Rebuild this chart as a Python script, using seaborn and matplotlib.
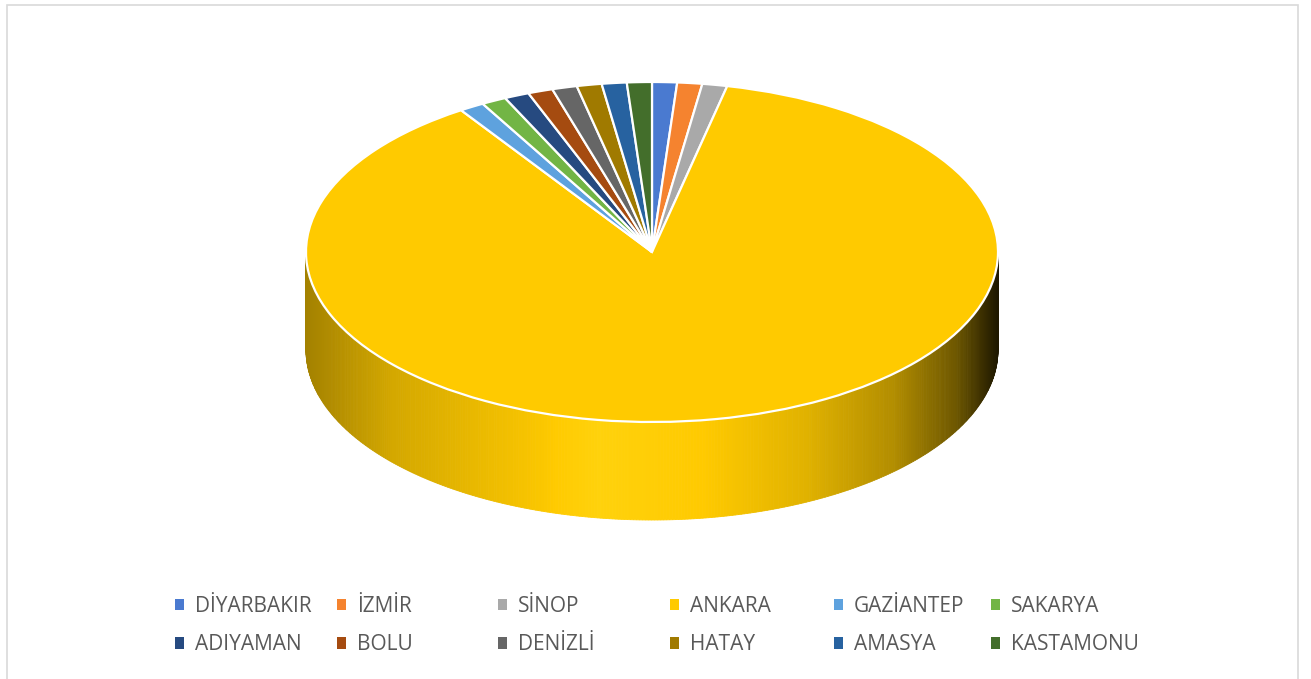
import numpy as np
import matplotlib
matplotlib.use("Agg")
import matplotlib.pyplot as plt
from matplotlib.patches import Polygon, Patch, Rectangle
import matplotlib.colors as mcolors
import seaborn as sns

# Provinces and their counts
cities = ["DİYARBAKIR", "İZMİR", "SİNOP", "ANKARA", "GAZİANTEP", "SAKARYA",
          "ADIYAMAN", "BOLU", "DENİZLİ", "HATAY", "AMASYA", "KASTAMONU"]
counts = [1, 1, 1, 75, 1, 1, 1, 1, 1, 1, 1, 1]
palette_hex = ["#4A7AD0", "#F5832F", "#A9A9A9", "#FFCA00", "#5EA2DE", "#72B545",
               "#264A80", "#A54B10", "#666666", "#A07A00", "#2762A0", "#436E2B"]

sns.set_theme(style="white")
plt.rcParams["font.family"] = ["Open Sans", "DejaVu Sans"]
colors = sns.color_palette(palette_hex)

W, H = 1311, 679
fig = plt.figure(figsize=(W / 100, H / 100), dpi=100)
fig.patch.set_facecolor("white")

# pie geometry in pixels: centre, horizontal / vertical radii, side depth
cx, cy, rx, ry, depth_px = 652, 252, 346, 170, 98
depth = depth_px / ry

ax = fig.add_axes([0, 0, 1, 1])
wedges, _ = ax.pie(counts, colors=colors, startangle=90, counterclock=False,
                   radius=1, wedgeprops=dict(edgecolor="white", linewidth=1.6))
for w in wedges:
    w.set_zorder(3)
ax.set_aspect("auto")
ax.set_xlim(-cx / rx, (W - cx) / rx)
ax.set_ylim((cy - H) / ry, cy / ry)
ax.axis("off")

# lighting profile of the cylinder wall, by horizontal position
shade_x = [-1.0, -0.75, -0.35, -0.15, 0.15, 0.45, 0.70, 0.88, 1.0]
shade_f = [0.64, 0.83, 0.97, 1.06, 1.0, 0.88, 0.70, 0.43, 0.12]


def wall_color(base, x):
    f = np.interp(x, shade_x, shade_f)
    rgb = np.array(mcolors.to_rgb(base))
    if f <= 1:
        return tuple(rgb * f)
    hi = np.array([1.0, 0.92, 0.2])
    return tuple(rgb + (hi - rgb) * (f - 1) * 4)


# front wall: every wedge contributes the part of its rim facing the viewer
for w, c in zip(wedges, colors):
    t1, t2 = w.theta1, w.theta2
    ts = np.linspace(t1, t2, max(int((t2 - t1) * 2), 2))
    for a, b in zip(ts[:-1], ts[1:]):
        am = ((a + b) / 2) % 360
        if not (180 <= am <= 360):
            continue
        ra, rb = np.radians(a), np.radians(b)
        pts = [(np.cos(ra), np.sin(ra)), (np.cos(rb), np.sin(rb)),
               (np.cos(rb), np.sin(rb) - depth), (np.cos(ra), np.sin(ra) - depth)]
        col = wall_color(c, np.cos(np.radians(am)))
        ax.add_patch(Polygon(pts, closed=True, facecolor=col, edgecolor=col,
                             linewidth=0.6, zorder=2))

# chart frame
fig.patches.append(Rectangle((7 / W, -0.02), (1298 - 7) / W, 1.02 - 5 / H,
                             transform=fig.transFigure, fill=False,
                             edgecolor="#D9D9D9", linewidth=1.2))

# legend: two rows, six columns
col_x = [175, 337, 498, 670, 834, 991]
row_y = 1 - 625.5 / H
for j in range(6):
    idx = [j, j + 6]
    handles = [Patch(facecolor=colors[i], edgecolor="none") for i in idx]
    leg = fig.legend(handles, [cities[i] for i in idx], loc="center left",
                     bbox_to_anchor=(col_x[j] / W, row_y), frameon=False,
                     fontsize=15, handlelength=0.45, handleheight=0.45,
                     handletextpad=0.5, labelspacing=0.85, borderpad=0,
                     borderaxespad=0)
    for t in leg.get_texts():
        t.set_color("#595959")

fig.savefig("out.png", dpi=100, facecolor="white")
